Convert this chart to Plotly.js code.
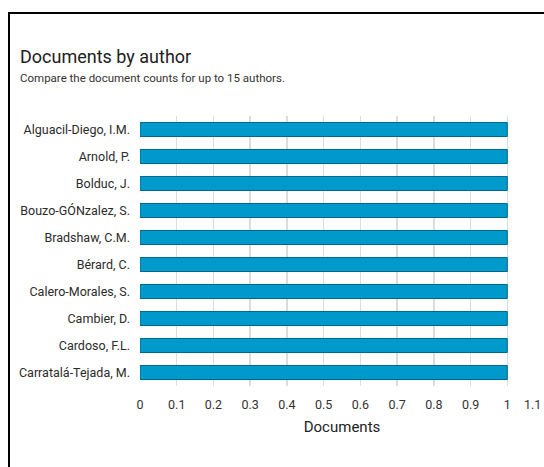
<!DOCTYPE html>
<html>
<head>
<meta charset="utf-8">
<script src="https://cdn.plot.ly/plotly-3.0.1.min.js"></script>
<style>
  html, body { margin: 0; padding: 0; background: #ffffff; overflow: hidden; }
  #chart { position: absolute; left: 0; top: 0; width: 544px; height: 467px; }
  #frame { position: absolute; left: 8px; top: 12px; width: 600px; height: 500px;
           border-top: 2px solid #000; border-left: 2px solid #000; pointer-events: none; }
</style>
</head>
<body>
<div id="chart"></div>
<div id="frame"></div>
<script>
const authors = [
  "Alguacil-Diego, I.M.",
  "Arnold, P.",
  "Bolduc, J.",
  "Bouzo-GÓNzalez, S.",
  "Bradshaw, C.M.",
  "Bérard, C.",
  "Calero-Morales, S.",
  "Cambier, D.",
  "Cardoso, F.L.",
  "Carratalá-Tejada, M."
];
const documents = [1, 1, 1, 1, 1, 1, 1, 1, 1, 1];
const xRange = [0, 1.1];
const xTickStep = 0.1;
const lastTickVal = 1.1;
const lastTickText = "1.1";
const titleText = "Documents by author";
const subtitleText = "Compare the document counts for up to 15 authors.";
const xTitle = "Documents";

const trace = {
  type: "bar",
  orientation: "h",
  y: authors,
  x: documents,
  marker: { color: "#0099cc", line: { color: "#00668c", width: 1 } },
  hoverinfo: "x+y"
};

const font = "Roboto, 'Noto Sans', sans-serif";

const layout = {
  width: 544,
  height: 467,
  margin: { l: 140, r: 0, t: 116, b: 81, pad: 0 },
  paper_bgcolor: "#ffffff",
  plot_bgcolor: "#ffffff",
  showlegend: false,
  bargap: 0.48,
  font: { family: font, color: "#333333" },
  xaxis: {
    range: xRange,
    tickmode: "linear",
    tick0: 0,
    dtick: xTickStep,
    showgrid: true,
    gridcolor: "#dcdcdc",
    gridwidth: 1.5,
    zeroline: false,
    showline: false,
    ticks: "",
    ticklabelstandoff: 9,
    tickfont: { family: font, size: 12.5, color: "#333333" },
    title: { text: xTitle, font: { family: font, size: 15, color: "#222222" }, standoff: 10 },
    fixedrange: true
  },
  yaxis: {
    type: "category",
    categoryorder: "array",
    categoryarray: authors,
    autorange: "reversed",
    showgrid: false,
    zeroline: false,
    showline: false,
    ticks: "",
    ticklabelstandoff: 9,
    tickfont: { family: font, size: 12.5, color: "#2b2b2b" },
    fixedrange: true
  },
  annotations: [
    {
      text: lastTickText, xref: "x", x: lastTickVal, yref: "paper", y: 0,
      xanchor: "right", yanchor: "top", yshift: -9, xshift: -1, showarrow: false,
      font: { family: font, size: 12.5, color: "#333333" }
    },
    {
      text: titleText, xref: "paper", x: -0.302, yref: "paper", y: 1.222,
      xanchor: "left", yanchor: "middle", showarrow: false,
      font: { family: font, size: 18, color: "#212121" }
    },
    {
      text: subtitleText, xref: "paper", x: -0.302, yref: "paper", y: 1.142,
      xanchor: "left", yanchor: "middle", showarrow: false,
      font: { family: font, size: 11.5, color: "#333333" }
    }
  ]
};

Plotly.newPlot("chart", [trace], layout, { displayModeBar: false, staticPlot: true });
</script>
</body>
</html>
